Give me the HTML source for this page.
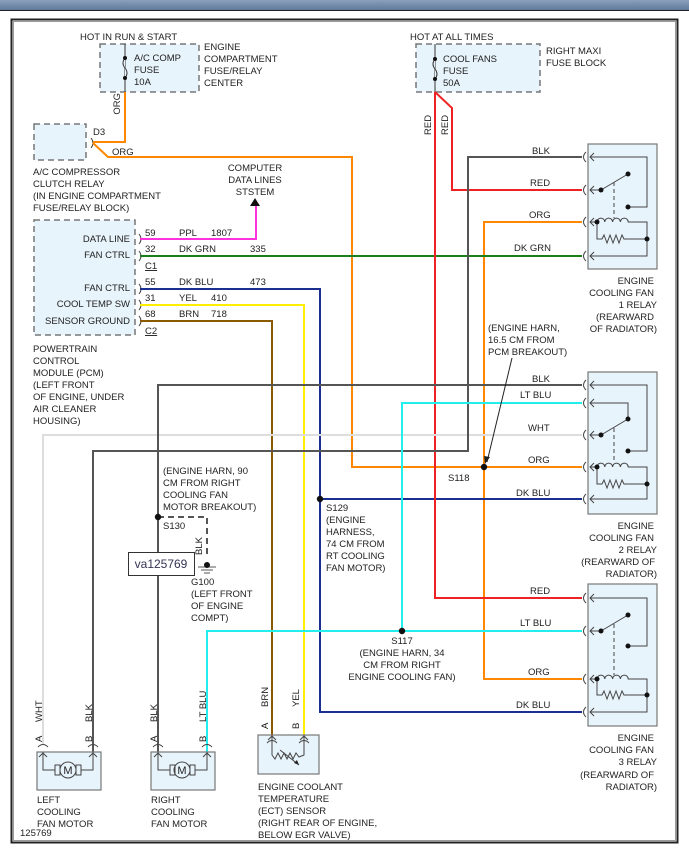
<!DOCTYPE html>
<html><head><meta charset="utf-8"><style>
html,body{margin:0;padding:0;background:#fff}
svg{display:block}
text{font-family:"Liberation Sans",Arial,sans-serif;font-size:9.5px;fill:#222}
.w{fill:none;stroke-width:2}
.th{fill:none;stroke:#444;stroke-width:1}
.box{fill:#e8f4fc;stroke:#777;stroke-width:1.2}
.dbox{fill:#e8f4fc;stroke:#777;stroke-width:1.5;stroke-dasharray:6,4}
</style></head><body>
<svg width="689" height="855" viewBox="0 0 689 855" xmlns="http://www.w3.org/2000/svg">
<defs><linearGradient id="g" x1="0" y1="0" x2="0" y2="1"><stop offset="0" stop-color="#8aa0bb"/><stop offset="1" stop-color="#5f7a9b"/></linearGradient></defs>
<rect x="0" y="0" width="689" height="10" fill="url(#g)"/>
<line x1="0" y1="10.5" x2="689" y2="10.5" stroke="#222" stroke-width="1"/>
<rect x="11.5" y="19.5" width="666" height="823" fill="none" stroke="#222" stroke-width="2"/>
<rect x="13.5" y="21.5" width="662" height="819" fill="none" stroke="#999" stroke-width="1"/>

<!-- fuse boxes -->
<rect class="dbox" x="100" y="44" width="99" height="48"/>
<line x1="125" y1="44" x2="125" y2="92" stroke="#333" stroke-width="1"/>
<path d="M125,58 q-4,5 0,10 q4,5 0,10" fill="#e8f4fc" stroke="#333"/>
<circle cx="125" cy="58" r="2" fill="#111"/><circle cx="125" cy="78" r="2" fill="#111"/>
<text x="80" y="40">HOT IN RUN &amp; START</text>
<text x="134" y="61">A/C COMP</text><text x="134" y="73">FUSE</text><text x="134" y="85">10A</text>
<text x="204" y="50">ENGINE</text><text x="204" y="62">COMPARTMENT</text><text x="204" y="74">FUSE/RELAY</text><text x="204" y="86">CENTER</text>

<rect class="dbox" x="416" y="44" width="124" height="48"/>
<line x1="435" y1="44" x2="435" y2="92" stroke="#333" stroke-width="1"/>
<path d="M435,59 q-4,5 0,10 q4,5 0,10" fill="#e8f4fc" stroke="#333"/>
<circle cx="435" cy="59" r="2" fill="#111"/><circle cx="435" cy="79" r="2" fill="#111"/>
<text x="410" y="40">HOT AT ALL TIMES</text>
<text x="443" y="62">COOL FANS</text><text x="443" y="74">FUSE</text><text x="443" y="86">50A</text>
<text x="546" y="54">RIGHT MAXI</text><text x="546" y="66">FUSE BLOCK</text>

<!-- A/C relay -->
<rect class="dbox" x="34" y="124" width="52" height="36"/>
<text x="93" y="135">D3</text>
<path d="M91,138 q4,5 0,10" class="th"/>
<text x="33" y="175">A/C COMPRESSOR</text><text x="33" y="187">CLUTCH RELAY</text><text x="33" y="199">(IN ENGINE COMPARTMENT</text><text x="33" y="211">FUSE/RELAY BLOCK)</text>

<!-- PCM -->
<rect class="dbox" x="34" y="220" width="101" height="115"/>
<g text-anchor="end"><text x="130" y="242">DATA LINE</text><text x="130" y="258">FAN CTRL</text><text x="130" y="291">FAN CTRL</text><text x="130" y="307">COOL TEMP SW</text><text x="130" y="324">SENSOR GROUND</text></g>
<g class="th"><path d="M139,234 q4,5 0,10"/><path d="M139,251 q4,5 0,10"/><path d="M139,284 q4,5 0,10"/><path d="M139,300 q4,5 0,10"/><path d="M139,316 q4,5 0,10"/></g>
<text x="145" y="236">59</text><text x="145" y="252">32</text><text x="145" y="269" text-decoration="underline">C1</text>
<text x="145" y="285">55</text><text x="145" y="301">31</text><text x="145" y="317">68</text><text x="145" y="334" text-decoration="underline">C2</text>
<text x="179" y="236">PPL</text><text x="211" y="236">1807</text>
<text x="179" y="252">DK GRN</text><text x="250" y="252">335</text>
<text x="179" y="285">DK BLU</text><text x="250" y="285">473</text>
<text x="179" y="301">YEL</text><text x="211" y="301">410</text>
<text x="179" y="317">BRN</text><text x="211" y="317">718</text>
<text x="33" y="352">POWERTRAIN</text><text x="33" y="364">CONTROL</text><text x="33" y="376">MODULE (PCM)</text><text x="33" y="388">(LEFT FRONT</text><text x="33" y="400">OF ENGINE, UNDER</text><text x="33" y="412">AIR CLEANER</text><text x="33" y="424">HOUSING)</text>

<g text-anchor="middle"><text x="255" y="171">COMPUTER</text><text x="255" y="183">DATA LINES</text><text x="255" y="195">STSTEM</text></g>
<polygon points="250,206 260,206 255,198" fill="#111"/>

<!-- wires -->
<path class="w" stroke="#ff8800" d="M125,92 V142 H93 M93,143 L108,157 H352 V467 H484 M484,467 V222 H582 M484,467 H582 M484,467 V679 H582"/>
<path class="w" stroke="#ff33dd" d="M140,239 H256 V206"/>
<path class="w" stroke="#1a7f1a" d="M140,256 H582"/>
<path class="w" stroke="#1a2f8f" d="M140,289 H320 V712 H582 M320,499 H582"/>
<path class="w" stroke="#ffee00" d="M140,305 H304 V744"/>
<path class="w" stroke="#8a5a00" d="M140,321 H272 V744"/>
<path class="w" stroke="#ee2222" d="M435,92 V598 H582 M435,92 L452,108 V190 H582"/>
<path class="w" stroke="#dddddd" d="M43,744 V435 H582"/>
<path class="w" stroke="#555" d="M582,157 H468 V451 H93 V752 M582,385 H158 V752"/>
<path class="w" stroke="#22eeee" d="M582,403 H402 V631 M207,752 V631 H582"/>
<path fill="none" stroke="#555" stroke-width="2" stroke-dasharray="6,4" d="M158,517 H207 V557"/>
<line x1="198" y1="567" x2="216" y2="567" stroke="#555"/><line x1="201" y1="570" x2="213" y2="570" stroke="#555"/><line x1="204" y1="573" x2="210" y2="573" stroke="#555"/>
<circle cx="207" cy="565" r="3" fill="#111"/>

<!-- splices -->
<g fill="#111"><circle cx="484" cy="467" r="3.2"/><circle cx="320" cy="499" r="3.2"/><circle cx="158" cy="517" r="3.2"/><circle cx="402" cy="631" r="3.2"/></g>
<path d="M512,358 L487,462" stroke="#222" fill="none"/><polygon points="485,464 484,456 490,457" fill="#222"/>

<!-- wire labels -->
<text x="532" y="154">BLK</text><text x="530" y="186">RED</text><text x="529" y="218">ORG</text><text x="514" y="251">DK GRN</text>
<text x="532" y="382">BLK</text><text x="520" y="398">LT BLU</text><text x="528" y="431">WHT</text><text x="528" y="463">ORG</text><text x="516" y="496">DK BLU</text>
<text x="530" y="594">RED</text><text x="520" y="626">LT BLU</text><text x="528" y="675">ORG</text><text x="516" y="708">DK BLU</text>
<text x="120" y="93" transform="rotate(-90 120 93)" text-anchor="end">ORG</text>
<text x="112" y="155">ORG</text>
<text x="431" y="135" transform="rotate(-90 431 135)">RED</text>
<text x="448" y="135" transform="rotate(-90 448 135)">RED</text>

<text x="488" y="331">(ENGINE HARN,</text><text x="488" y="343">16.5 CM FROM</text><text x="488" y="355">PCM BREAKOUT)</text>
<text x="448" y="481">S118</text>
<text x="163" y="474">(ENGINE HARN, 90</text><text x="163" y="486">CM FROM RIGHT</text><text x="163" y="498">COOLING FAN</text><text x="163" y="510">MOTOR BREAKOUT)</text>
<text x="163" y="529">S130</text>
<text x="326" y="511">S129</text><text x="326" y="523">(ENGINE</text><text x="326" y="535">HARNESS,</text><text x="326" y="547">74 CM FROM</text><text x="326" y="559">RT COOLING</text><text x="326" y="571">FAN MOTOR)</text>
<text x="202" y="555" transform="rotate(-90 202 555)">BLK</text>
<text x="191" y="585">G100</text><text x="191" y="597">(LEFT FRONT</text><text x="191" y="609">OF ENGINE</text><text x="191" y="621">COMPT)</text>
<g text-anchor="middle"><text x="402" y="644">S117</text><text x="402" y="656">(ENGINE HARN, 34</text><text x="402" y="668">CM FROM RIGHT</text><text x="402" y="680">ENGINE COOLING FAN)</text></g>
<rect x="128.5" y="552.5" width="66" height="23" fill="#fff" stroke="#333"/>
<text x="161" y="568" text-anchor="middle" style="font-size:12px;fill:#335">va125769</text>

<!-- relays -->
<g class="th">
<rect class="box" x="588" y="144" width="69" height="125"/>
<rect class="box" x="588" y="372" width="69" height="142"/>
<rect class="box" x="588" y="584" width="69" height="142"/>
</g>
<g fill="none" stroke="#444" stroke-width="1">
<!-- connector arcs -->
<path d="M586,152 q-5,5 0,10 M586,185 q-5,5 0,10 M586,217 q-5,5 0,10 M586,251 q-5,5 0,10 M586,380 q-5,5 0,10 M586,398 q-5,5 0,10 M586,430 q-5,5 0,10 M586,462 q-5,5 0,10 M586,494 q-5,5 0,10 M586,593 q-5,5 0,10 M586,626 q-5,5 0,10 M586,674 q-5,5 0,10 M586,707 q-5,5 0,10"/>
<path d="M594,153 l-4,4 l4,4 M594,186 l-4,4 l4,4 M594,218 l-4,4 l4,4 M594,252 l-4,4 l4,4 M594,381 l-4,4 l4,4 M594,399 l-4,4 l4,4 M594,431 l-4,4 l4,4 M594,463 l-4,4 l4,4 M594,495 l-4,4 l4,4 M594,594 l-4,4 l4,4 M594,627 l-4,4 l4,4 M594,675 l-4,4 l4,4 M594,708 l-4,4 l4,4"/>
<!-- relay1 -->
<path d="M590,157 H647 V207 H628 M601,190 L628,174 M590,190 H601 M590,222 H597 M597,222 a3.9,3.9 0 0 1 7.8,0 a3.9,3.9 0 0 1 7.8,0 a3.9,3.9 0 0 1 7.8,0 a3.9,3.9 0 0 1 7.8,0 H647 V256 H590 M597,222 V239 H602 l2,-4 l3,8 l3,-8 l3,8 l3,-8 l3,8 l3,-8 l2,4 H647"/>
<path d="M614,182 V218" stroke-dasharray="4,3"/>
<!-- relay2 -->
<path d="M590,385 H647 V451 H628 M590,403 H628 V419 M601,435 L628,419 M590,435 H601 M590,467 H597 M597,467 a3.9,3.9 0 0 1 7.8,0 a3.9,3.9 0 0 1 7.8,0 a3.9,3.9 0 0 1 7.8,0 a3.9,3.9 0 0 1 7.8,0 H647 V499 H590 M597,467 V484 H602 l2,-4 l3,8 l3,-8 l3,8 l3,-8 l3,8 l3,-8 l2,4 H647"/>
<path d="M614,428 V463" stroke-dasharray="4,3"/>
<!-- relay3 -->
<path d="M590,598 H647 V646 H628 M601,631 L628,615 M590,631 H601 M590,679 H597 M597,679 a3.9,3.9 0 0 1 7.8,0 a3.9,3.9 0 0 1 7.8,0 a3.9,3.9 0 0 1 7.8,0 a3.9,3.9 0 0 1 7.8,0 H647 V712 H590 M597,679 V695 H602 l2,-4 l3,8 l3,-8 l3,8 l3,-8 l3,8 l3,-8 l2,4 H647"/>
<path d="M614,624 V675" stroke-dasharray="4,3"/>
</g>
<g fill="#111">
<circle cx="628" cy="207" r="2.5"/><circle cx="601" cy="190" r="2.5"/><circle cx="628" cy="174" r="2.5"/><circle cx="597" cy="222" r="2.5"/><circle cx="647" cy="239" r="2.5"/>
<circle cx="628" cy="451" r="2.5"/><circle cx="628" cy="419" r="2.5"/><circle cx="601" cy="435" r="2.5"/><circle cx="597" cy="467" r="2.5"/><circle cx="647" cy="484" r="2.5"/>
<circle cx="628" cy="646" r="2.5"/><circle cx="628" cy="615" r="2.5"/><circle cx="601" cy="631" r="2.5"/><circle cx="597" cy="679" r="2.5"/><circle cx="647" cy="695" r="2.5"/>
</g>
<g text-anchor="end">
<text x="654" y="284">ENGINE</text><text x="654" y="296">COOLING FAN</text><text x="657" y="308">1 RELAY</text><text x="654" y="320">(REARWARD</text><text x="657" y="332">OF RADIATOR)</text>
<text x="654" y="529">ENGINE</text><text x="654" y="541">COOLING FAN</text><text x="657" y="553">2 RELAY</text><text x="655" y="565">(REARWARD OF</text><text x="657" y="577">RADIATOR)</text>
<text x="654" y="741">ENGINE</text><text x="654" y="753">COOLING FAN</text><text x="657" y="765">3 RELAY</text><text x="654" y="778">(REARWARD OF</text><text x="657" y="790">RADIATOR)</text>
</g>

<!-- motors -->
<g fill="none" stroke="#444" stroke-width="1">
<rect class="box" x="37" y="752" width="64" height="38"/>
<rect class="box" x="151" y="752" width="64" height="38"/>
<rect class="box" x="258" y="735" width="61" height="39"/>
<path d="M38,747 q5,-5 10,0 M88,747 q5,-5 10,0 M153,747 q5,-5 10,0 M202,747 q5,-5 10,0 M267,743 q5,-5 10,0 M299,743 q5,-5 10,0"/>
<path d="M43,752 V770 H55 M93,752 V770 H81 M39,757 l4,-4 l4,4 M89,757 l4,-4 l4,4"/>
<rect x="55" y="765" width="5" height="10"/><rect x="76" y="765" width="5" height="10"/>
<circle cx="68" cy="770" r="8"/>
<path d="M158,752 V770 H170 M207,752 V770 H195 M154,757 l4,-4 l4,4 M203,757 l4,-4 l4,4"/>
<rect x="170" y="765" width="5" height="10"/><rect x="190" y="765" width="5" height="10"/>
<circle cx="182" cy="770" r="8"/>
<path d="M272,735 V755 l3,4 l3,-6 l3,6 l3,-6 l3,6 l3,-6 l3,6 l3,-6 l3,4 L304,755 V735 M268,740 l4,-4 l4,4 M300,740 l4,-4 l4,4 M280,750 L299,765"/>
</g>
<polygon points="299,765 294,763 297,760" fill="#222"/>
<text x="68" y="774" text-anchor="middle" style="font-size:11px">M</text>
<text x="182" y="774" text-anchor="middle" style="font-size:11px">M</text>
<g>
<text x="42" y="742" transform="rotate(-90 42 742)">A</text>
<text x="42" y="722" transform="rotate(-90 42 722)">WHT</text>
<text x="92" y="742" transform="rotate(-90 92 742)">B</text>
<text x="92" y="722" transform="rotate(-90 92 722)">BLK</text>
<text x="157" y="742" transform="rotate(-90 157 742)">A</text>
<text x="157" y="722" transform="rotate(-90 157 722)">BLK</text>
<text x="206" y="742" transform="rotate(-90 206 742)">B</text>
<text x="206" y="722" transform="rotate(-90 206 722)">LT BLU</text>
<text x="268" y="729" transform="rotate(-90 268 729)">A</text>
<text x="268" y="707" transform="rotate(-90 268 707)">BRN</text>
<text x="299" y="729" transform="rotate(-90 299 729)">B</text>
<text x="299" y="707" transform="rotate(-90 299 707)">YEL</text>
</g>
<text x="37" y="803">LEFT</text><text x="37" y="815">COOLING</text><text x="37" y="827">FAN MOTOR</text>
<text x="20" y="836">125769</text>
<text x="151" y="803">RIGHT</text><text x="151" y="815">COOLING</text><text x="151" y="827">FAN MOTOR</text>
<text x="258" y="790">ENGINE COOLANT</text><text x="258" y="802">TEMPERATURE</text><text x="258" y="814">(ECT) SENSOR</text><text x="258" y="826">(RIGHT REAR OF ENGINE,</text><text x="258" y="838">BELOW EGR VALVE)</text>
</svg>
</body></html>
